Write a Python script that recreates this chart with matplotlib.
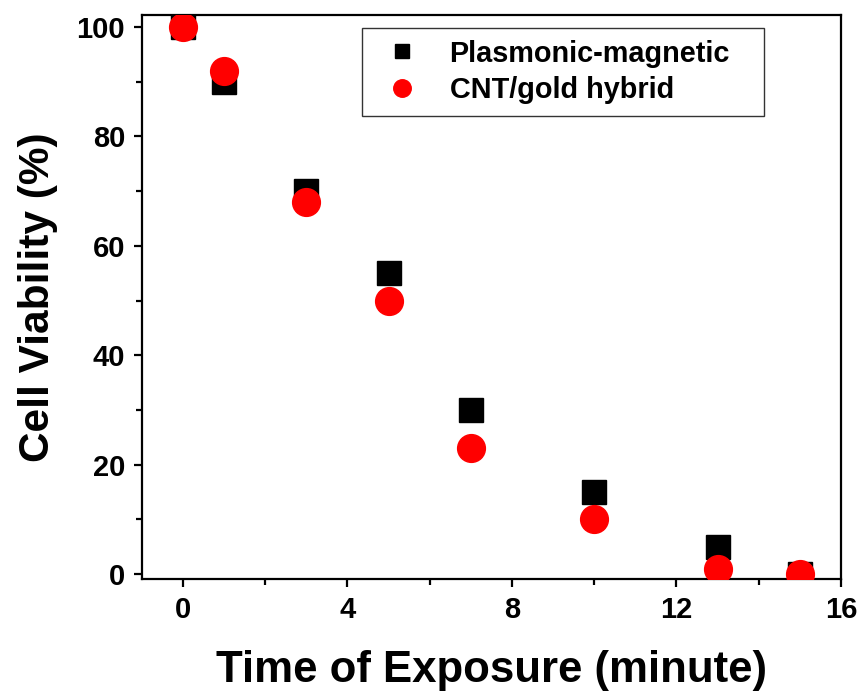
import matplotlib
matplotlib.use('Agg')
import matplotlib.pyplot as plt
from matplotlib.ticker import MultipleLocator

time_min = [0, 1, 3, 5, 7, 10, 13, 15]
plasmonic = [100, 90, 70, 55, 30, 15, 5, 0]
cnt_gold = [100, 92, 68, 50, 23, 10, 1, 0]

plt.rcParams['font.family'] = ['Liberation Sans', 'DejaVu Sans']
plt.rcParams['font.weight'] = 'bold'

fig = plt.figure(figsize = (8.61, 6.96), dpi = 100)
ax = fig.add_axes([0.1646, 0.168, 0.8122, 0.8104])

ax.plot(time_min, plasmonic, 's', color = 'black', markersize = 17,
        label = 'Plasmonic-magnetic', zorder = 3)
ax.plot(time_min, cnt_gold, 'o', color = 'red', markersize = 20,
        label = 'CNT/gold hybrid', zorder = 4)

ax.set_xlim(-1, 16)
ax.set_ylim(-0.9, 102.2)
ax.xaxis.set_major_locator(MultipleLocator(4))
ax.xaxis.set_minor_locator(MultipleLocator(2))
ax.yaxis.set_major_locator(MultipleLocator(20))
ax.yaxis.set_minor_locator(MultipleLocator(10))

for s in ax.spines.values():
  s.set_linewidth(1.6)
ax.tick_params(which = 'major', direction = 'out', length = 6, width = 1.6,
               labelsize = 21, pad = 6)
ax.tick_params(which = 'minor', direction = 'out', length = 4, width = 1.6)

ax.set_xlabel('Time of Exposure (minute)', fontsize = 31.5, fontweight = 'bold', labelpad = 19)
ax.set_ylabel('Cell Viability (%)', fontsize = 30.5, fontweight = 'bold', labelpad = 13)

leg = ax.legend(loc = 'upper left', bbox_to_anchor = (0.315, 0.977 - 0.156, 0.575, 0.156),
                mode = 'expand', fontsize = 20.8, markerscale = 0.63, frameon = True,
                fancybox = False, edgecolor = 'black', handlelength = 2.0,
                handletextpad = 0.63, borderpad = 0.4, labelspacing = 0.3,
                borderaxespad = 0)
leg.get_frame().set_linewidth(1.0)

plt.savefig('out.png', dpi = 100)
plt.close()
